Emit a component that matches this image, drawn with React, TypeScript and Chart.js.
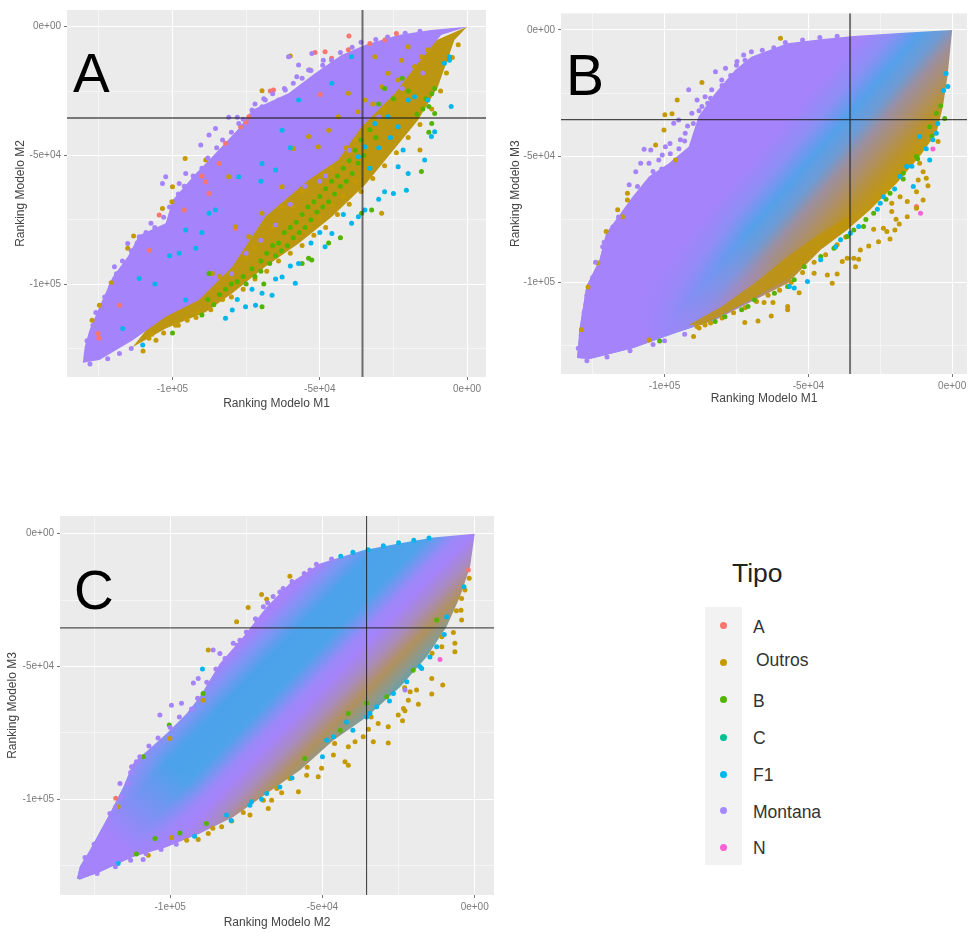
import React, { useEffect, useRef } from "react";
import { Chart, registerables } from "chart.js";

Chart.register(...registerables);

type P = [number, number];

const THRESHOLD = -35.5;
const AXIS_TICKS = [-125000, -100000, -75000, -50000, -25000, 0];
const AXIS_TICK_LABELS = ["", "-1e+05", "", "-5e+04", "", "0e+00"];
const LEGEND_LABELS = ["A", "Outros", "B", "C", "F1", "Montana", "N"];
const LEGEND_COLORS = ["#F8766D", "#C49A00", "#53B400", "#00C094", "#00B6EB", "#A58AFF", "#FB61D7"];

// ---------- Panel A ----------
const A_CLOUD_UPPER: P[] = [[-130.4,-130.2],[-129.8,-124.4],[-128.2,-117.9],[-124.8,-108.8],[-120.3,-97.2],[-115.2,-89.4],[-111.3,-81],[-102.3,-76.4],[-100,-67.4],[-92.1,-57],[-86.5,-50.5],[-77.5,-39.5],[-73,-32.4],[-60.6,-25.9],[-51.6,-18.1],[-42.6,-11],[-34.7,-7.1],[-23.4,-3.2],[-12.2,-1.3],[0,0]];
const A_CLOUD_LOWER: P[] = [[-8.8,-3.2],[-16.7,-14.2],[-24.5,-25.9],[-35.8,-38.9],[-43.7,-51.8],[-53.8,-59.6],[-68.5,-73.8],[-79.7,-93.3],[-91,-106.2],[-102.3,-112.7],[-113.5,-121.8],[-124.8,-129.5],[-130.4,-130.6]];
const A_BAND: P[] = [[0,0],[-4.3,-5.2],[-9.9,-23.3],[-16.7,-36.3],[-34.7,-61.5],[-45.9,-73.8],[-57.2,-84.2],[-68.5,-93.3],[-79.7,-103.6],[-88.7,-110.8],[-102.3,-117.2],[-113.5,-124.4],[-100,-105],[-70,-65],[-45,-40],[-20,-10],[0,0]];
const A_A: P[] = [[-40.1,-3.6],[-24,-2.6],[-51.6,-10],[-48.2,-9.7],[-46,-12.3],[-40.3,-9],[-33,-6.5],[-27.9,-5.2],[-49.9,-26.3],[-65.7,-24.6],[-66.8,-25],[-74.1,-35],[-76.9,-38.9],[-82,-45.3],[-84.2,-53.1],[-88.7,-60.2],[-87.6,-64.8],[-96,-71.2],[-104.5,-73.2],[-107.9,-86.8],[-118,-108.2],[-125.3,-119.2],[-78.6,-78.4],[-125,-121],[-90,-58],[-75,-37]];
const A_OUTROS: P[] = [[-69.6,-24.9],[-60,-11.4],[-53.3,-16.8],[-95.7,-51.2],[-100,-62.2],[-100.2,-68],[-103.4,-70.6],[-113.2,-81.3],[-115.2,-86.1],[-120.8,-99.5],[-124.8,-108.2],[-127.3,-114],[-105.6,-121.8],[-29,-72.5],[-16,-47.9],[-20,-7.8],[-17.8,-15.5],[-23.4,-20.7],[-29,-23.3],[-34.7,-28.5],[-40.3,-25.9],[-43.7,-35],[-47,-40.2],[-26.8,-18.1],[-15.5,-11.7],[-13.3,-9],[-31.3,-11.7],[-22.3,-13],[-50.5,-46.6],[-53.8,-42.7],[-58.9,-47.3],[-62.8,-62.2],[-69.6,-72.5],[-74.1,-81.6],[-78.6,-77.7],[-86.5,-95.9],[-80.9,-58.3],[-88.7,-51.8],[-37,-33],[-32,-30],[-28,-32],[-38,-44],[-41,-47],[-46,-55],[-49,-57],[-56,-64],[-59,-70],[-63,-70],[-66,-78],[-72,-86],[-75,-90],[-84,-97],[-92,-113],[-98,-116],[-108,-121],[-110,-126],[-107,-119.5],[-103,-119],[-99,-116],[-95,-114],[-91,-111],[-87,-110],[-83,-106],[-80,-105],[-76,-102],[-72,-98],[-68,-95],[-64,-91],[-60,-88],[-56,-85],[-52,-81],[-48,-78],[-44,-73],[-40,-69],[-36,-64],[-32,-59],[-28,-54],[-24,-49],[-20,-43],[-16,-38],[-12,-32],[-9,-25],[-7,-18],[-5,-12],[-3,-7],[-38,-60],[-42,-66],[-46,-69],[-50,-74],[-54,-78]];
const A_B: P[] = [[-88,-106],[-86,-108],[-84,-104],[-82,-102],[-80,-100],[-78,-99],[-76,-97],[-75,-100],[-73,-94],[-72,-97],[-70,-91],[-70,-95],[-68,-88],[-67,-92],[-66,-85],[-65,-89],[-64,-84],[-63,-87],[-62,-80],[-61,-85],[-60,-78],[-59,-82],[-58,-76],[-57,-80],[-56,-73],[-55,-78],[-54,-70],[-53,-75],[-52,-68],[-51,-72],[-50,-66],[-49,-70],[-48,-63],[-47,-68],[-46,-60],[-45,-65],[-44,-58],[-43,-62],[-42,-55],[-41,-60],[-40,-52],[-39,-57],[-38,-48],[-37,-53],[-36,-44],[-35,-50],[-33,-40],[-31,-43],[-30,-30],[-28,-24],[-25,-28],[-22,-20],[-20,-25],[-17,-34],[-15,-32],[-14,-28],[-12,-26],[-11,-24],[-13,-31],[-53.8,-90],[-52.7,-90.6],[-56,-92],[-12,-37.6],[-11,-33.7],[-13,-41],[-15.5,-56.3],[-69.6,-108.8],[-69,-100],[-87.6,-95.9],[-32.4,-71.2],[-35.8,-72.5],[-43,-82],[-47,-84],[-90,-112],[-100,-119]];
const A_F1: P[] = [[-5.4,-31],[-6,-13],[-11,-40.8],[-12.1,-42.7],[-14.4,-51.8],[-20.6,-63.5],[-25,-64.8],[-28,-64.1],[-21.7,-47.9],[-23.4,-54.4],[-20,-57],[-30,-67],[-34.7,-71.2],[-36.9,-73.8],[-39.2,-76.4],[-45.9,-80.3],[-48.2,-85.5],[-57.2,-92],[-58.3,-99.7],[-62.8,-97.2],[-66.2,-104.3],[-69.6,-103.6],[-71.8,-108.2],[-75.2,-108.8],[-79.7,-110.1],[-82,-113.3],[-110.1,-123.7],[-85.4,-71.2],[-87.6,-72.5],[-95.5,-79],[-97.7,-88],[-92.1,-86.1],[-116.9,-117.2],[-111.3,-97.8],[-95.5,-106.2],[-77.5,-58.3],[-69.6,-53.1],[-65,-55.7],[-62.8,-40.2],[-57.2,-28.5],[-45.9,-22],[-39.2,-11.7],[-31.3,-37.6],[-26.8,-35],[-23.4,-38.9],[-20,-28.5],[-17.8,-27.2],[-34.7,-46.6],[-36.9,-50.5],[-7.7,-14.2],[-6,-11.7],[-13.3,-28.5],[-26,-43],[-30,-47],[-33,-55],[-42,-73],[-50,-80],[-53,-84],[-60,-93],[-65,-98],[-73,-102],[-78,-106],[-60,-47],[-70,-60],[-90,-80],[-101,-89],[-106,-100]];
const A_MONTANA: P[] = [[-87.6,-42.1],[-85.4,-39.5],[-90.4,-46],[-103.4,-60.9],[-102.3,-58.3],[-97.7,-60.9],[-95.5,-57],[-107.3,-76.4],[-111.3,-81.6],[-115.2,-84.2],[-119.7,-93.3],[-80.9,-35.2],[-78,-35.2],[-73,-32.4],[-69.6,-31.1],[-60.6,-11.7],[-52.7,-10.4],[-57.2,-14.9],[-57.8,-19.4],[-61.7,-24.6],[-64,-28.5],[-68.5,-28.5],[-48.8,-13],[-53.8,-16.8],[-77.5,-37.6],[-129,-122],[-127,-116],[-126,-111],[-123,-105],[-121,-101],[-119,-96],[-117,-91],[-114,-87],[-112,-84],[-109,-80],[-106,-78],[-103,-74],[-101,-70],[-98,-65],[-96,-62],[-93,-58],[-90,-55],[-88,-51],[-85,-47],[-83,-44],[-80,-41],[-76,-36],[-72,-30],[-69,-28],[-66,-26],[-62,-24],[-59,-22],[-56,-20],[-53,-17],[-49,-15],[-46,-13],[-43,-10],[-39,-8],[-36,-6],[-31,-5],[-27,-4],[-21,-2.5],[-16,-1.8],[-128,-131],[-122,-129],[-118,-127],[-114,-125],[-60,-69],[-55,-62],[-50,-60],[-48,-58],[-65,-77],[-70,-83],[-75,-88],[-80,-96],[-40,-48],[-30,-35],[-22,-24],[-15,-18]];

// ---------- Panel B ----------
const B_CLOUD: P[] = [[-130.4,-129.9],[-129.5,-118],[-127.2,-101.6],[-122.6,-91],[-120.3,-80.5],[-111.1,-66],[-105.4,-58],[-98.5,-52.8],[-91.6,-46.2],[-88.2,-34.3],[-82.4,-25.1],[-75.5,-15.8],[-69.8,-10.6],[-57.2,-5.3],[-45.7,-3.7],[-34.2,-2.4],[-17,-1.1],[0,0],[-1.5,-17.2],[-3.2,-30.3],[-5.5,-40.9],[-11.3,-50.1],[-19.3,-60.7],[-28.5,-71.2],[-36.5,-79.2],[-45.7,-87],[-57.2,-100.3],[-68.7,-106.9],[-82.4,-114.8],[-96.2,-120],[-111.1,-126],[-126,-130.3],[-130.4,-129.9]];
const B_BAND: P[] = [[-34.2,-72.6],[-45.7,-80.5],[-57.2,-89.7],[-68.7,-100.3],[-80.1,-109.5],[-91.6,-116.8],[-87,-116.8],[-80.1,-112.8],[-68.7,-106.1],[-57.2,-98.3],[-45.7,-86.4],[-36.5,-78.5],[-34.2,-72.6]];
const B_A: P[] = [[-12.4,-69.9]];
const B_OUTROS: P[] = [[-72.1,-115.8],[-67.5,-115.2],[-62.9,-113.2],[-57.2,-109.5],[-57.2,-110.8],[-53.2,-104],[-62.3,-107.9],[-65.4,-107.9],[-43.4,-97],[-40,-96.6],[-41.7,-100.3],[-48,-96.3],[-38.2,-91.7],[-36.5,-90.4],[-34.2,-90.4],[-32.5,-90.8],[-33.6,-93.7],[-31.9,-87.1],[-29,-85.5],[-25.6,-83.8],[-27.3,-78.9],[-23.9,-78.5],[-21.6,-82.8],[-22.7,-79.8],[-19.9,-79.2],[-18.4,-76.8],[-19.5,-74.9],[-21,-71.9],[-15.6,-73.9],[-15.6,-67.9],[-12.4,-70.6],[-10.1,-67.3],[-12.4,-64],[-8.4,-61.7],[-9,-58.7],[-11.8,-59.4],[-10.1,-56.1],[-11.3,-52.8],[-4.9,-44.2],[-18.1,-66],[-21,-68.6],[-89.9,-121.4],[-85.9,-116.8],[-88.7,-117.4],[-105.4,-122.7],[-59.7,-3.3],[-99.9,-33.6],[-97.4,-33.2],[-87,-20.8],[-95.6,-27.7],[-100.2,-39.6],[-103.1,-45.5],[-112.9,-64.6],[-112.9,-67.3],[-116.3,-71.2],[-114.6,-73.9],[-120.3,-79.8],[-123.2,-92.3],[-126.6,-101.8],[-128.9,-118.7],[-96.2,-51.5],[-88,-118],[-84,-116],[-80,-114],[-76,-112],[-72,-110],[-68,-107.5],[-64,-105],[-60,-103],[-56,-100],[-52,-96],[-48,-92],[-44,-89],[-40,-85],[-37,-82]];
const B_B: P[] = [[-101.7,-123.1],[-79,-113.5],[-73.2,-110.8],[-68.7,-106.9],[-61.8,-104.2],[-57.2,-101.6],[-51.4,-93.7],[-45.7,-89.7],[-36.5,-81.8],[-30.8,-77.8],[-27.3,-72.6],[-21.6,-64.6],[-17,-56.7],[-12.4,-50.1],[-7.8,-38.3],[-5.5,-33],[-2.6,-35],[-34.2,-79.2],[-41.1,-86.4],[-54.9,-98.9],[-71,-109.5],[-82.4,-115.4],[-30,-75],[-23,-67],[-17,-59],[-12,-51],[-7,-42],[-4,-30]];
const B_F1: P[] = [[-50.3,-99.6],[-45.7,-91],[-40.5,-85.8],[-38.8,-83.1],[-35.4,-80.5],[-32.5,-77.8],[-25,-68.6],[-23.9,-66],[-18.1,-58],[-15.8,-54.1],[-13.5,-62],[-7.8,-51.5],[-11.3,-42.2],[-6.7,-43.5],[-5.5,-40.9],[-2.1,-17.2],[-1.5,-22.4],[-54.9,-102.2],[-56.6,-101.6],[-26,-71],[-20,-63],[-14,-54],[-9,-47],[-5,-37],[-3,-24]];
const B_MONTANA: P[] = [[-107.1,-47.2],[-104.8,-47.5],[-110,-56.1],[-108.3,-52.8],[-105.4,-52.8],[-102,-51.5],[-100.8,-49.5],[-99.7,-46.2],[-112.3,-61.3],[-109.4,-62],[-96.8,-36.9],[-95.1,-35.6],[-91.6,-23.7],[-88.7,-27.7],[-85.9,-26.4],[-90.5,-33],[-87,-30.3],[-82.3,-16.5],[-78.8,-15.2],[-74.8,-12.5],[-72.5,-9.9],[-69.8,-8.6],[-80.1,-19.8],[-83.6,-23.7],[-94.5,-43.5],[-92.8,-40.9],[-98.1,-44.9],[-121.5,-85.8],[-123.8,-97.6],[-104,-56],[-101,-55],[-98,-49],[-95,-47],[-93,-44],[-90,-37],[-92,-38],[-88,-32],[-85,-29],[-84,-27],[-80,-22],[-77,-18],[-75,-14],[-72,-12],[-66,-8],[-62,-7],[-58,-5],[-52,-4],[-46,-3],[-40,-2.5],[-116,-74],[-118,-78],[-113,-71],[-121,-84],[-124,-92],[-125,-98],[-127,-105],[-128,-112],[-129,-121],[-130,-126],[-127,-131],[-120,-129.5],[-112,-127],[-104,-124.5],[-100,-123],[-93,-120.5]];
const B_N: P[] = [[-11,-72.6],[-6.7,-47.1]];

// ---------- Panel C ----------
const C_CLOUD: P[] = [[-130.6,-129.9],[-129.7,-125.5],[-126.4,-119.2],[-119.8,-105.4],[-115.4,-95.4],[-112.2,-86.6],[-101.2,-75.3],[-94.6,-67.7],[-90.3,-61.4],[-83.7,-48.9],[-76,-38.8],[-68.3,-27.5],[-60.7,-18.7],[-50.8,-11.2],[-36.6,-6.2],[-24.5,-3.6],[-13.6,-1.4],[0,0],[-1.5,-12.4],[-4.8,-23.7],[-9.2,-35],[-15.8,-46.4],[-24.5,-57.7],[-35.5,-69],[-46.4,-77.8],[-57.4,-89.1],[-68.3,-97.9],[-79.3,-106.7],[-90.3,-112.9],[-101.2,-118],[-112.2,-121.7],[-123.1,-127.4],[-129.7,-130.3],[-130.6,-129.9]];
const C_A: P[] = [[-117.9,-99.7],[-2.1,-13.7]];
const C_OUTROS: P[] = [[-60.7,-16],[-70,-22.9],[-68.3,-24.7],[-74.4,-27.8],[-78.2,-33.2],[-87.5,-43.8],[-1.8,-16.8],[-3.2,-21.2],[-4.3,-24.4],[-4.5,-28.8],[-4.3,-32.5],[-7,-37.2],[-10.8,-38.8],[-6.5,-41.3],[-6.5,-44.5],[-10.8,-42.6],[-10.5,-57],[-14.1,-54.5],[-14.1,-60.4],[-19.1,-58.9],[-18.5,-64.2],[-21.8,-62.7],[-21.2,-59.5],[-23.4,-65.8],[-22.9,-66.7],[-23.7,-70.5],[-25.1,-68.3],[-28.4,-72.7],[-28.4,-78.8],[-33.3,-78.4],[-34.9,-73.7],[-31.7,-71.5],[-36.6,-76.5],[-39.3,-78.4],[-41.5,-80.3],[-46.4,-83.4],[-42.6,-85.9],[-41.5,-87.2],[-50.3,-88.4],[-51.4,-91.6],[-55.2,-91],[-57.9,-97.2],[-60.7,-92.2],[-63.4,-97.6],[-66.7,-100.4],[-67.8,-103.5],[-69.4,-100.4],[-73.8,-106],[-79.8,-108.2],[-83.1,-110.4],[-87.5,-112.9],[-90.8,-115.2],[-94.6,-115.5],[-99.6,-114.4],[-107.2,-121.1],[-117.1,-102.9],[-100.1,-77.1],[-89.2,-62.7],[-86,-111],[-76,-105],[-65,-96],[-55,-88],[-46,-79],[-34,-69],[-23,-58],[-14,-45],[-6,-29]];
const C_B: P[] = [[-100.3,-72.1],[-89.2,-60.2],[-55.8,-84.7],[-41.5,-67.7],[-35.5,-63.9],[-88.1,-109.2],[-96.8,-112.7],[-111.1,-120.7],[-105,-114.8],[-108.9,-84],[-20.2,-51.4],[-12.5,-32.5],[-44.2,-74],[-28.9,-61.4]];
const C_F1: P[] = [[-89.4,-51],[-9.2,-31.3],[-12.5,-42.6],[-14.7,-46.4],[-22.3,-55.8],[-26.7,-60.2],[-32.2,-65.2],[-35.5,-69],[-34.4,-67.7],[-42.1,-70.9],[-46.4,-76.5],[-48.6,-77.8],[-64,-95.4],[-68.3,-97.9],[-73.3,-101],[-73.8,-102.3],[-81.5,-106],[-117.1,-124.2],[-17.4,-50.8],[-44,-8.5],[-40,-7],[-35,-6],[-30,-4.5],[-25,-3.4],[-20,-2.5],[-15,-1.6],[-92,-114],[-80,-108],[-70,-100],[-60,-92],[-50,-84],[-40,-74],[-28,-63],[-18,-50],[-10,-38],[-3.5,-20]];
const C_MONTANA: P[] = [[-103.4,-68.3],[-99.6,-64.6],[-96.3,-63.9],[-92.4,-56.2],[-90.8,-54.5],[-85.9,-43.8],[-83.7,-45.1],[-80.4,-46.4],[-77.1,-40.1],[-79.3,-41.3],[-71.6,-32.5],[-69.4,-27.5],[-66.2,-23.7],[-62.9,-20.6],[-59.6,-18.7],[-54.1,-13.7],[-50.8,-12.4],[-116.5,-94.1],[-112.7,-87.8],[-111.1,-85.9],[-119.8,-105.4],[-108.9,-122.7],[-22.9,-58.9],[-128,-122],[-125,-117],[-122,-112],[-120,-108],[-118,-103],[-116,-99],[-114,-94],[-113,-90],[-110,-84],[-107,-80],[-104,-77],[-100,-73],[-97,-69],[-93,-66],[-91,-62],[-88,-56],[-85,-51],[-82,-47],[-78,-42],[-75,-37],[-72,-32],[-68,-26],[-64,-22],[-60,-18],[-56,-15],[-52,-11.5],[-47,-9.5],[-124,-128],[-118,-125.5],[-113,-123],[-108,-120.5],[-103,-119],[-98,-117]];
const C_N: P[] = [[-11.4,-47.4]];

const COL = { A: LEGEND_COLORS[0], O: LEGEND_COLORS[1], B: LEGEND_COLORS[2], C: LEGEND_COLORS[3], F: LEGEND_COLORS[4], M: "#A583FB", N: LEGEND_COLORS[6] };
type Stop = [number, string];
type Fill = string | { from: P; to: P; stops: Stop[] };

const B_CROSS_FILL: Fill = { from: [-73.2, -32.7], to: [-29.6, -75.5], stops: [[0, "#a583fb"], [0.24, "#a583fb"], [0.38, "#8c8ff5"], [0.5, "#55a0ea"], [0.6, "#6f9bd4"], [0.68, "#9c8f9f"], [0.78, "#ad8f6b"], [0.88, "#b9922f"], [1, "#c49a00"]] };
const B_CORNER_FILL: Fill = { from: [-108.8, -120], to: [-72, -78], stops: [[0, "rgba(165,131,251,1)"], [1, "rgba(165,131,251,0)"]] };
const C_CROSS_FILL: Fill = { from: [-75.7, -39.8], to: [-39.4, -80.3], stops: [[0, "#a583fb"], [0.1, "#7b96f3"], [0.2, "#4ba2ea"], [0.39, "#4ea3ea"], [0.52, "#9c88f8"], [0.587, "#a583fb"], [0.696, "#a98bc0"], [0.804, "#b0915f"], [0.891, "#8a9a90"], [1, "#3aa8c8"]] };
const C_CORNER_FILL: Fill = { from: [-117.6, -115.5], to: [-97, -90], stops: [[0, "rgba(165,131,251,1)"], [1, "rgba(165,131,251,0)"]] };

interface Panel {
  left: number; top: number; width: number; height: number;
  pad: { top: number; right: number }; yW: number; xH: number;
  xLim: [number, number]; yLim: [number, number];
  xTitle: string; yTitle: string; xPad: number; yPad: number;
  vLine: [string, number]; hLine: [string, number];
  shapes: [P[], Fill][]; dots: [P[], string][];
}

const PANELS: Panel[] = [
  { left: 0, top: 0, width: 490, height: 420, pad: { top: 10, right: 2 }, yW: 67, xH: 43, xLim: [-135800, 6420], yLim: [-136090, 6490], xTitle: "Ranking Modelo M1", yTitle: "Ranking Modelo M2", xPad: 9, yPad: 13,
    vLine: ["rgba(40,40,40,0.65)", 2], hLine: ["rgba(30,30,30,0.75)", 1.5],
    shapes: [[A_BAND, "#BC9610"], [[...A_CLOUD_UPPER, ...A_CLOUD_LOWER, A_CLOUD_UPPER[0]], "#A583FB"]],
    dots: [[A_A, COL.A], [A_OUTROS, COL.O], [A_B, COL.B], [A_F1, COL.F], [A_MONTANA, COL.M]] },
  { left: 490, top: 0, width: 481, height: 420, pad: { top: 13.3, right: 0 }, yW: 71, xH: 46, xLim: [-136000, 5165], yLim: [-136200, 6600], xTitle: "Ranking Modelo M1", yTitle: "Ranking Modelo M3", xPad: 14, yPad: 18,
    vLine: ["rgba(40,40,40,0.6)", 2], hLine: ["rgba(30,30,30,0.8)", 1.3],
    shapes: [[B_CLOUD, B_CROSS_FILL], [B_CLOUD, B_CORNER_FILL], [B_BAND, "rgba(190,148,10,0.85)"]],
    dots: [[B_A, COL.A], [B_OUTROS, COL.O], [B_B, COL.B], [B_F1, COL.F], [B_MONTANA, COL.M], [B_N, COL.N]] },
  { left: 0, top: 500, width: 500, height: 433, pad: { top: 16, right: 6 }, yW: 60, xH: 38, xLim: [-136200, 6340], yLim: [-136100, 6670], xTitle: "Ranking Modelo M2", yTitle: "Ranking Modelo M3", xPad: 3.5, yPad: 5,
    vLine: ["rgba(20,20,20,0.85)", 1], hLine: ["rgba(30,30,30,0.75)", 1.3],
    shapes: [[C_CLOUD, C_CROSS_FILL], [C_CLOUD, C_CORNER_FILL]],
    dots: [[C_A, COL.A], [C_OUTROS, COL.O], [C_B, COL.B], [C_F1, COL.F], [C_MONTANA, COL.M], [C_N, COL.N]] },
];

const LETTERS = [
  { t: "A", left: 73, top: 46, size: 55 },
  { t: "B", left: 566, top: 47, size: 57 },
  { t: "C", left: 74, top: 563, size: 55 },
];

const pts = (a: P[]) => a.map(([x, y]) => ({ x: x * 1000, y: y * 1000 }));
const FONT = "'Liberation Sans', Arial, sans-serif";

const background = {
  id: "panelBackground",
  beforeDraw(chart: any) {
    const { ctx, chartArea: c } = chart;
    ctx.save();
    ctx.fillStyle = "#EBEBEB";
    ctx.fillRect(c.left, c.top, c.right - c.left, c.bottom - c.top);
    ctx.restore();
  },
};

function resolveFill(f: Fill) {
  if (typeof f === "string") return f;
  return (ctx: any) => {
    const { chart } = ctx;
    const sx = chart.scales.x, sy = chart.scales.y;
    if (!sx || !sy) return f.stops[0][1];
    const c = [sx.getPixelForValue(f.from[0] * 1000), sy.getPixelForValue(f.from[1] * 1000), sx.getPixelForValue(f.to[0] * 1000), sy.getPixelForValue(f.to[1] * 1000)];
    if (!c.every(Number.isFinite)) return f.stops[0][1];
    const g = chart.ctx.createLinearGradient(c[0], c[1], c[2], c[3]);
    f.stops.forEach(([t, col]) => g.addColorStop(t, col));
    return g;
  };
}

function buildConfig(p: Panel): any {
  const datasets: any[] = [];
  let order = 1000;
  p.shapes.forEach(([shape, fill]) => {
    datasets.push({ data: pts(shape), showLine: true, fill: "shape", backgroundColor: resolveFill(fill), borderWidth: 0, pointRadius: 0, order: order-- });
  });
  p.dots.forEach(([d, color]) => {
    datasets.push({ data: pts(d), showLine: false, pointRadius: 2.5, pointBackgroundColor: color, pointBorderWidth: 0, order: order-- });
  });
  datasets.push({ data: [{ x: p.xLim[0], y: THRESHOLD * 1000 }, { x: p.xLim[1], y: THRESHOLD * 1000 }], showLine: true, pointRadius: 0, borderColor: p.hLine[0], borderWidth: p.hLine[1], order: order-- });
  datasets.push({ data: [{ x: THRESHOLD * 1000, y: p.yLim[0] }, { x: THRESHOLD * 1000, y: p.yLim[1] }], showLine: true, pointRadius: 0, borderColor: p.vLine[0], borderWidth: p.vLine[1], order: order-- });

  const axis = (lim: [number, number], title: string, titlePadding: any, fit: (s: any) => void) => ({
    type: "linear", min: lim[0], max: lim[1],
    afterBuildTicks: (s: any) => { s.ticks = AXIS_TICKS.map((value) => ({ value })); },
    afterFit: fit,
    border: { display: false },
    grid: {
      color: "#FFFFFF",
      lineWidth: (c: any) => (AXIS_TICK_LABELS[AXIS_TICKS.indexOf(c.tick?.value)] ? 1 : 0.5),
      tickLength: 3,
      tickColor: (c: any) => (AXIS_TICK_LABELS[AXIS_TICKS.indexOf(c.tick?.value)] ? "#777777" : "rgba(0,0,0,0)"),
    },
    ticks: {
      autoSkip: false, maxRotation: 0, minRotation: 0, padding: 3,
      color: "#7a7a7a", font: { family: FONT, size: 10 },
      callback: (v: number) => AXIS_TICK_LABELS[AXIS_TICKS.indexOf(v)] ?? "",
    },
    title: { display: true, text: title, color: "#444444", font: { family: FONT, size: 12 }, padding: titlePadding },
  });

  return {
    type: "scatter",
    data: { datasets },
    plugins: [background],
    options: {
      animation: false, responsive: false,
      layout: { padding: { top: p.pad.top, right: p.pad.right, left: 0, bottom: 0 } },
      plugins: { legend: { display: false }, tooltip: { enabled: false } },
      scales: {
        x: axis(p.xLim, p.xTitle, { top: 0, bottom: p.xPad }, (s: any) => { s.height = p.xH; }),
        y: axis(p.yLim, p.yTitle, { top: p.yPad, bottom: 0 }, (s: any) => { s.width = p.yW; }),
      },
    },
  };
}

function PanelChart({ panel }: { panel: Panel }) {
  const ref = useRef<HTMLCanvasElement>(null);
  useEffect(() => {
    const chart = new Chart(ref.current as any, buildConfig(panel));
    chart.update();
    return () => chart.destroy();
  }, [panel]);
  return (
    <canvas ref={ref} width={panel.width} height={panel.height}
      style={{ position: "absolute", left: panel.left, top: panel.top, width: panel.width, height: panel.height }} />
  );
}

const LEGEND_DOT_Y = [625, 662, 699, 737, 774, 810, 847];
const LEGEND_TEXT_Y = [627, 660, 701, 738, 775, 812, 848];

export default function App() {
  return (
    <div style={{ position: "absolute", left: 0, top: 0, width: 971, height: 933, overflow: "hidden", background: "#fff", fontFamily: FONT, filter: "blur(0.5px)" }}>
      {PANELS.map((p, i) => <PanelChart key={i} panel={p} />)}
      {LETTERS.map((l) => (
        <div key={l.t} style={{ position: "absolute", left: l.left, top: l.top, fontSize: l.size, lineHeight: 1, color: "#000" }}>{l.t}</div>
      ))}
      <div style={{ position: "absolute", left: 732, top: 557, fontSize: 26.5, lineHeight: "32px", color: "#222" }}>Tipo</div>
      <div style={{ position: "absolute", left: 705, top: 607, width: 37, height: 258, background: "#F2F2F2" }} />
      {LEGEND_LABELS.map((t, i) => (
        <React.Fragment key={t}>
          <div style={{ position: "absolute", left: 719.5, top: LEGEND_DOT_Y[i] - 3.5, width: 7, height: 7, borderRadius: "50%", background: LEGEND_COLORS[i] }} />
          <div style={{ position: "absolute", left: t === "Outros" ? 756 : 753, top: LEGEND_TEXT_Y[i] - 11, fontSize: 17.5, lineHeight: "22px", color: "#333" }}>{t}</div>
        </React.Fragment>
      ))}
    </div>
  );
}
